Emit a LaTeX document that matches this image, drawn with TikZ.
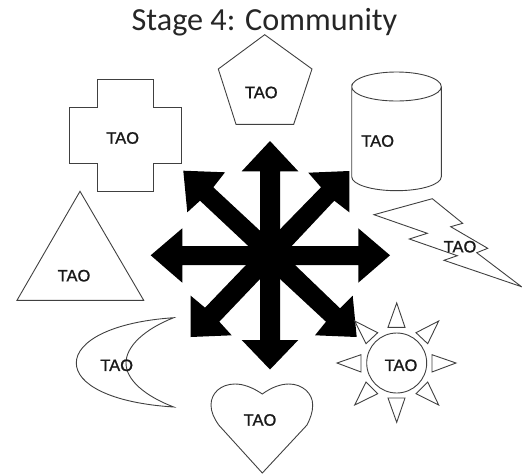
\documentclass[tikz,border=0pt]{standalone}
\usepackage{fontspec}
\setmainfont{Liberation Sans}
\newfontfamily\titlefont{Carlito}
\newfontfamily\taofont[FakeBold=1.2]{Liberation Sans}
\tikzset{
  outline/.style={draw=black!75,line width=0.9pt,line join=miter},
  arrowfill/.style={fill=black},
  tao/.style={inner sep=0pt,font=\taofont\fontsize{16.5}{16.5}\selectfont,text=black!90},
}
\begin{document}
\begin{tikzpicture}[x=1pt,y=-1pt]
\useasboundingbox (0,0) rectangle (522,474);
\node[inner sep=0pt,anchor=base,font=\titlefont\fontsize{32.2}{32.2}\selectfont,text=black!85] (title) at (264.5,30) {Stage 4: Community};
% central star
\fill[arrowfill] (260,255) -- (260,171.3) -- (241.7,171.3) -- (270,141) -- (298.3,171.3) -- (280,171.3) -- (280,255) -- cycle;
\fill[arrowfill] (260,255) -- (260,340) -- (241.7,340) -- (270,369.5) -- (298.3,340) -- (280,340) -- (280,255) -- cycle;
\fill[arrowfill] (270,246) -- (358.3,246) -- (358.3,228.3) -- (390,255.3) -- (358.3,282.7) -- (358.3,265) -- (270,265) -- cycle;
\fill[arrowfill] (270,246) -- (182.3,246) -- (182.3,228.3) -- (150.7,255.3) -- (182.3,282.7) -- (182.3,265) -- (270,265) -- cycle;
\fill[arrowfill] (270,255) -- (280,229.3) -- (321,187.3) -- (308.3,172.7) -- (349.3,171) -- (349.3,212.3) -- (334.3,200.7) -- (291.7,246) -- cycle;
\fill[arrowfill] (270,255) -- (260,230.7) -- (213.3,187.3) -- (225,172.3) -- (183.3,170.7) -- (187.3,212.3) -- (200,200.7) -- (248.3,246) -- cycle;
\fill[arrowfill] (270,255) -- (246,265) -- (205,307.7) -- (190.7,295.7) -- (190.7,337) -- (231.7,335.3) -- (219.3,321.7) -- (260,279) -- cycle;
\fill[arrowfill] (270,255) -- (295,265) -- (340,308.3) -- (352.7,295.7) -- (356.7,337) -- (315,335.3) -- (326,321.7) -- (280,279) -- cycle;
% cross
\draw[outline] (97.3,79.3) -- (153,79.3) -- (153,107.3) -- (181,107.3) -- (181,163.3) -- (153,163.3) -- (153,191.3) -- (97.3,191.3) -- (97.3,163.3) -- (69.3,163.3) -- (69.3,107.3) -- (97.3,107.3) -- cycle;
\node[tao] (tcross) at (122.7,138) {TAO};
% pentagon
\draw[outline] (264.7,34.7) -- (312,69) -- (293.7,124.3) -- (236,124.3) -- (218.3,69) -- cycle;
\node[tao] (tpent) at (261.3,92.5) {TAO};
% cylinder
\draw[outline] (351.7,86.7) .. controls (351.7,78.5) and (371.7,72) .. (396.5,72) .. controls (421.3,72) and (441.3,78.5) .. (441.3,86.7) .. controls (441.3,94.8) and (421.3,101) .. (396.5,101) .. controls (371.7,101) and (351.7,94.8) .. (351.7,86.7) -- (351.7,176.7) .. controls (351.7,184.5) and (371.7,190.7) .. (396.5,190.7) .. controls (421.3,190.7) and (441.3,184.5) .. (441.3,176.7) -- (441.3,86.7);
\node[tao] (tcyl) at (377.7,141) {TAO};
% triangle
\draw[outline] (80,191.3) -- (143.7,300.3) -- (17,300.3) -- cycle;
\node[tao] (ttri) at (74,275.7) {TAO};
% moon
\draw[outline] (173.7,317.7) .. controls (110,322) and (76.3,342) .. (76.3,363) .. controls (76.3,384) and (110,403) .. (173.7,407) .. controls (145,396) and (126,380) .. (126,363) .. controls (126,346) and (145,329) .. (173.7,317.7) -- cycle;
\node[tao] (tmoon) at (116.7,365.3) {TAO};
% heart
\draw[outline] (262.3,394) .. controls (252,387) and (243,384) .. (235,384) .. controls (221,384) and (211,393) .. (211,405) .. controls (211,412) and (214,418) .. (218.7,425) -- (262.3,473) -- (307,425) .. controls (310.5,418) and (312.7,412) .. (312.7,405) .. controls (312.7,393) and (302,384) .. (289,384) .. controls (281,384) and (272,387) .. (262.3,394) -- cycle;
\node[tao] (theart) at (260,420) {TAO};
% sun
\draw[outline] (396.7,363) circle[radius=30];
\draw[outline] (396.7,303) -- (405,327.3) -- (388,327.3) -- cycle;
\draw[outline] (396.7,422.3) -- (405,398) -- (388,398) -- cycle;
\draw[outline] (456,363) -- (432,354.7) -- (432,372) -- cycle;
\draw[outline] (337,363) -- (361,354.7) -- (361,372) -- cycle;
\draw[outline] (438.7,321) -- (416,332.7) -- (427.7,343.7) -- cycle;
\draw[outline] (354.7,321) -- (377.7,332.7) -- (366,343.7) -- cycle;
\draw[outline] (354.7,405) -- (366,382) -- (377.7,393.7) -- cycle;
\draw[outline] (438.7,405) -- (427.7,382) -- (416,393.7) -- cycle;
\node[tao] (tsun) at (401,365.3) {TAO};
% bolt
\draw[outline] (374,214.7) -- (432.3,198.7) -- (462.7,223.3) -- (450.7,226.7) -- (487.7,248.3) -- (476.7,252.7) -- (521.5,286.7) -- (444,260.3) -- (457.3,255.7) -- (409.3,239) -- (427.3,233.3) -- cycle;
\node[tao] (tbolt) at (460,246.7) {TAO};
\end{tikzpicture}
\end{document}
